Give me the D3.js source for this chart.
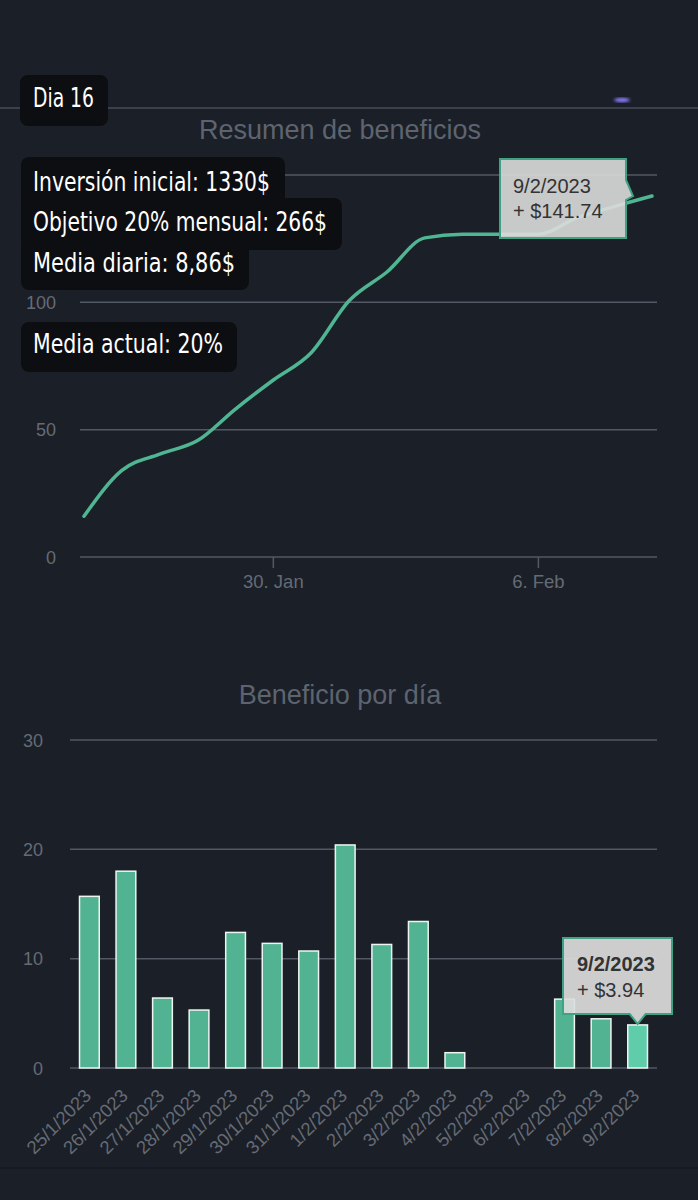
<!DOCTYPE html>
<html>
<head>
<meta charset="utf-8">
<script src="https://cdn.jsdelivr.net/npm/d3@7"></script>
<style>
  html, body { margin: 0; padding: 0; background: #1b1f27; }
  svg { display: block; }
</style>
</head>
<body>
<svg id="chart" width="698" height="1200"></svg>
<script>
// ---------- data ----------
const lineDates = ["2023-01-25","2023-01-26","2023-01-27","2023-01-28","2023-01-29","2023-01-30","2023-01-31","2023-02-01","2023-02-02","2023-02-03","2023-02-04","2023-02-05","2023-02-06","2023-02-07","2023-02-08","2023-02-09"];
const cumulativeProfit = [16.0, 34.0, 40.4, 45.7, 58.1, 69.5, 80.2, 100.6, 111.9, 125.3, 126.7, 126.7, 126.7, 133.1, 137.6, 141.74];
const lineYTicks = [0, 50, 100, 150];
const lineXTicks = ["2023-01-30", "2023-02-06"];
const lineXTickLabels = ["30. Jan", "6. Feb"];

const barCategories = ["25/1/2023","26/1/2023","27/1/2023","28/1/2023","29/1/2023","30/1/2023","31/1/2023","1/2/2023","2/2/2023","3/2/2023","4/2/2023","5/2/2023","6/2/2023","7/2/2023","8/2/2023","9/2/2023"];
const dailyProfit = [15.7, 18.0, 6.4, 5.3, 12.4, 11.4, 10.7, 20.4, 11.3, 13.4, 1.4, 0, 0, 6.3, 4.5, 3.94];
const barYTicks = [0, 10, 20, 30];

const titles = ["Resumen de beneficios", "Beneficio por día"];
const lineTooltip = ["9/2/2023", "+ $141.74"];
const barTooltip = ["9/2/2023", "+ $3.94"];
const stickerDay = "Dia 16";
const stickerRows = ["Inversión inicial: 1330$", "Objetivo 20% mensual: 266$", "Media diaria: 8,86$"];
const stickerAvg = "Media actual: 20%";

// ---------- styles ----------
const BG = "#1b1f27";
const GRID = "#535964";
const LABEL = "#656b75";
const TITLE = "#5d6470";
const GREEN = "#4fb592";
const BAR = "#52b393";
const BAR_HI = "#5fcdaa";
const FONT = "'Liberation Sans', Arial, sans-serif";
const STICK_FONT = "'Liberation Sans Narrow', 'DejaVu Sans Condensed', 'Roboto', sans-serif";

const svg = d3.select("#chart");
svg.append("rect").attr("width", 698).attr("height", 1200).attr("fill", BG);

// top separator line + small purple glow
svg.append("line").attr("x1", 0).attr("x2", 698).attr("y1", 108).attr("y2", 108)
  .attr("stroke", "#3b404a").attr("stroke-width", 2);
const defs = svg.append("defs");
defs.append("filter").attr("id", "blur").append("feGaussianBlur").attr("stdDeviation", 1.5);
svg.append("ellipse").attr("cx", 622).attr("cy", 100).attr("rx", 8).attr("ry", 2.2)
  .attr("fill", "#8a7cff").attr("filter", "url(#blur)");
// bottom faint border
svg.append("line").attr("x1", 0).attr("x2", 698).attr("y1", 1168).attr("y2", 1168)
  .attr("stroke", "#161a21").attr("stroke-width", 2);

// ---------- top line chart ----------
const parse = d3.timeParse("%Y-%m-%d");
const lineData = lineDates.map((d, i) => ({ date: parse(d), value: cumulativeProfit[i] }));

const xTime = d3.scaleTime()
  .domain([parse(lineDates[0]), parse(lineDates[lineDates.length - 1])])
  .range([84, 652]);
const yLine = d3.scaleLinear().domain([0, 150]).range([557, 175]);
const gridX0 = 80, gridX1 = 657;

svg.append("text").attr("x", 340).attr("y", 139).attr("text-anchor", "middle")
  .attr("font-family", FONT).attr("font-size", 27).attr("fill", TITLE).text(titles[0]);

const gTop = svg.append("g");
gTop.selectAll("line.grid").data(lineYTicks).join("line")
  .attr("x1", gridX0).attr("x2", gridX1)
  .attr("y1", d => yLine(d)).attr("y2", d => yLine(d))
  .attr("stroke", GRID).attr("stroke-width", 1.5);
gTop.selectAll("text.yl").data(lineYTicks).join("text")
  .attr("x", 56).attr("y", d => yLine(d) + 6.5).attr("text-anchor", "end")
  .attr("font-family", FONT).attr("font-size", 18).attr("fill", LABEL).text(d => d);

lineXTicks.forEach((t, i) => {
  const x = xTime(parse(t));
  gTop.append("line").attr("x1", x).attr("x2", x).attr("y1", 557).attr("y2", 568)
    .attr("stroke", GRID).attr("stroke-width", 1.5);
  gTop.append("text").attr("x", x).attr("y", 588).attr("text-anchor", "middle")
    .attr("font-family", FONT).attr("font-size", 18.5).attr("fill", LABEL).text(lineXTickLabels[i]);
});

const line = d3.line().x(d => xTime(d.date)).y(d => yLine(d.value)).curve(d3.curveMonotoneX);
gTop.append("path").datum(lineData).attr("d", line)
  .attr("fill", "none").attr("stroke", GREEN).attr("stroke-width", 3.5)
  .attr("stroke-linecap", "round");

// tooltip on line chart
{
  const last = lineData[lineData.length - 1];
  const px = xTime(last.date), py = yLine(last.value);
  const bx0 = 500, bx1 = 626, by0 = 159, by1 = 238;
  const tipX = px - 19, tipY = py;
  const path = `M${bx0},${by0} H${bx1} V${by0 + 21} L${tipX},${tipY} L${bx1},${by0 + 41} V${by1} H${bx0} Z`;
  svg.append("path").attr("d", path).attr("fill", "#dcdcdc").attr("fill-opacity", 0.9)
    .attr("stroke", "#3ea283").attr("stroke-width", 2);
  svg.append("text").attr("x", 513).attr("y", 193).attr("font-family", FONT)
    .attr("font-size", 20).attr("fill", "#333").text(lineTooltip[0]);
  svg.append("text").attr("x", 513).attr("y", 218).attr("font-family", FONT)
    .attr("font-size", 20).attr("fill", "#333").text(lineTooltip[1]);
}

// ---------- bottom bar chart ----------
const xBand = d3.scaleBand().domain(barCategories).range([70, 657])
  .paddingInner(0.46).paddingOuter(0.26);
const yBar = d3.scaleLinear().domain([0, 30]).range([1068, 740]);

svg.append("text").attr("x", 340).attr("y", 704).attr("text-anchor", "middle")
  .attr("font-family", FONT).attr("font-size", 27).attr("fill", TITLE).text(titles[1]);

const gBot = svg.append("g");
gBot.selectAll("line.grid").data(barYTicks).join("line")
  .attr("x1", 70).attr("x2", 657)
  .attr("y1", d => yBar(d)).attr("y2", d => yBar(d))
  .attr("stroke", GRID).attr("stroke-width", 1.5);
gBot.selectAll("text.yl").data(barYTicks).join("text")
  .attr("x", 43).attr("y", d => yBar(d) + 6.5).attr("text-anchor", "end")
  .attr("font-family", FONT).attr("font-size", 18).attr("fill", LABEL).text(d => d);

gBot.selectAll("rect.bar").data(dailyProfit).join("rect")
  .attr("x", (d, i) => xBand(barCategories[i]))
  .attr("width", xBand.bandwidth())
  .attr("y", d => yBar(d))
  .attr("height", d => yBar(0) - yBar(d))
  .attr("fill", (d, i) => i === dailyProfit.length - 1 ? BAR_HI : BAR)
  .attr("stroke", (d) => d > 0 ? "#eef5f1" : "none").attr("stroke-width", 1.5);

gBot.selectAll("text.xl").data(barCategories).join("text")
  .attr("transform", d => `translate(${xBand(d) + xBand.bandwidth() / 2 + 3},${1097}) rotate(-45)`)
  .attr("text-anchor", "end")
  .attr("font-family", FONT).attr("font-size", 18.5).attr("fill", LABEL).text(d => d);

// tooltip on bar chart
{
  const lastCat = barCategories[barCategories.length - 1];
  const cx = xBand(lastCat) + xBand.bandwidth() / 2;
  const tipY = yBar(dailyProfit[dailyProfit.length - 1]) - 1;
  const bx0 = 563, bx1 = 672, by0 = 938, by1 = 1014;
  const path = `M${bx0},${by0} H${bx1} V${by1} H${cx + 8} L${cx},${tipY} L${cx - 8},${by1} H${bx0} Z`;
  svg.append("path").attr("d", path).attr("fill", "#dcdcdc").attr("fill-opacity", 0.92)
    .attr("stroke", "#3ea283").attr("stroke-width", 2);
  svg.append("text").attr("x", 577).attr("y", 971).attr("font-family", FONT)
    .attr("font-size", 20).attr("font-weight", "bold").attr("fill", "#333").text(barTooltip[0]);
  svg.append("text").attr("x", 577).attr("y", 997).attr("font-family", FONT)
    .attr("font-size", 20).attr("fill", "#333").text(barTooltip[1]);
}

// ---------- overlay stickers ----------
const STICK = "#0d0e11";
function sticker(x0, y0, x1, y1) {
  svg.append("rect").attr("x", x0).attr("y", y0).attr("width", x1 - x0).attr("height", y1 - y0)
    .attr("rx", 8).attr("fill", STICK);
}
function stickText(txt, x, y, len) {
  svg.append("text").attr("x", x).attr("y", y).attr("font-family", STICK_FONT)
    .attr("font-size", 26).attr("fill", "#ffffff")
    .attr("textLength", len).attr("lengthAdjust", "spacingAndGlyphs").text(txt);
}
sticker(20, 75, 108, 126);
stickText(stickerDay, 33, 107, 61);

sticker(21, 157, 285, 210);
sticker(21, 198, 342, 250);
sticker(21, 240, 249, 290);
stickText(stickerRows[0], 33, 191, 237);
stickText(stickerRows[1], 33, 231, 294);
stickText(stickerRows[2], 33, 272, 202);

sticker(21, 322, 237, 372);
stickText(stickerAvg, 33, 353, 190);
</script>
</body>
</html>
